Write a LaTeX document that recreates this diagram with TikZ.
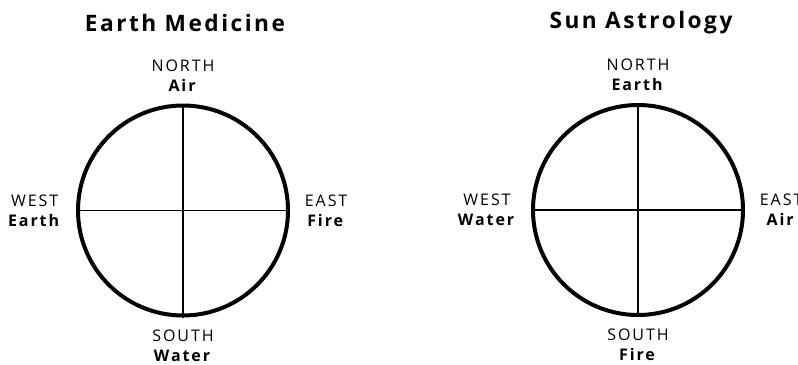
\documentclass[tikz,border=0pt]{standalone}
\usepackage{fontspec}
\setmainfont{Open Sans}
\newfontfamily\titlefont[LetterSpace=11]{Open Sans}
\newfontfamily\dirfont[LetterSpace=12]{Open Sans}
\usepackage{tikz}
\usetikzlibrary{positioning}
\tikzset{
  wheel/.style={circle, draw=black, line width=3pt, minimum size=157.5pt, inner sep=0pt},
  cross/.style={draw=black, line width=1.3pt},
  titletext/.style={font=\titlefont\bfseries\fontsize{17}{19}\selectfont, inner sep=0pt},
  dirtext/.style={font=\dirfont\fontsize{12}{15}\selectfont, align=center, inner sep=1pt}
}

\begin{document}
\begin{tikzpicture}[x=0.75pt, y=-0.75pt, node distance=10pt]
\useasboundingbox (0,0) rectangle (798,364);

% Earth Medicine
\node[titletext] (lt) at (185,23) {Earth Medicine};
\node[wheel] (lc) at (183,210.5) {};
\draw[cross] (lc.north) -- (lc.south);
\draw[cross] (lc.west) -- (lc.east);
\node[dirtext, above=8pt of lc] (ln) {NORTH\\\textbf{Air}};
\node[dirtext, below=8pt of lc] (ls) {SOUTH\\\textbf{Water}};
\node[dirtext, left=of lc] (lw) {WEST\\\textbf{Earth}};
\node[dirtext, right=of lc] (le) {EAST\\\textbf{Fire}};

% Sun Astrology
\node[titletext] (rt) at (641,23) {Sun Astrology};
\node[wheel] (rc) at (638,210) {};
\draw[cross] (rc.north) -- (rc.south);
\draw[cross] (rc.west) -- (rc.east);
\node[dirtext, above=8pt of rc] (rn) {NORTH\\\textbf{Earth}};
\node[dirtext, below=8pt of rc] (rs) {SOUTH\\\textbf{Fire}};
\node[dirtext, left=of rc] (rw) {WEST\\\textbf{Water}};
\node[dirtext, right=of rc] (re) {EAST\\\textbf{Air}};
\end{tikzpicture}
\end{document}
